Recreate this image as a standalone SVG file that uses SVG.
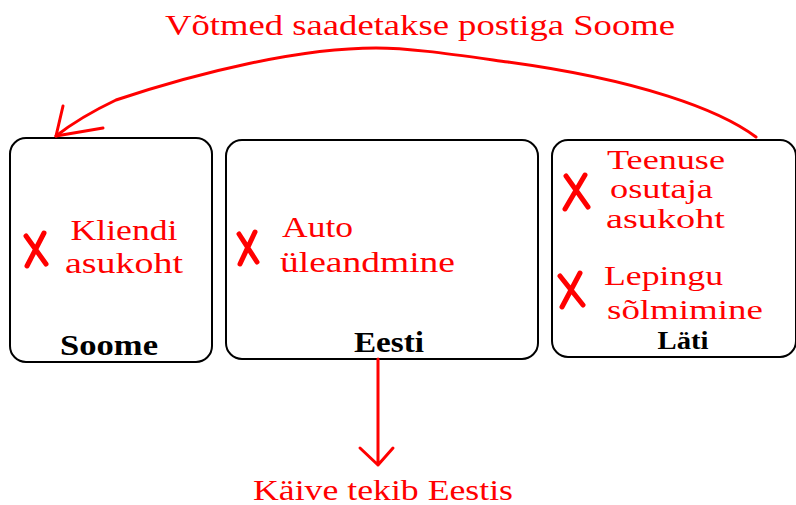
<svg xmlns="http://www.w3.org/2000/svg" width="796" height="505" viewBox="0 0 796 505">
<style>
.box{fill:#fff;stroke:#000;stroke-width:2}
.red{fill:#ff0000;font-family:"Liberation Serif","DejaVu Serif",serif;font-size:30px}
.sm{font-size:28px}
.lbl{fill:#000;font-family:"Liberation Serif","DejaVu Serif",serif;font-size:29px;font-weight:bold}
.x{fill:none;stroke:#ff0000;stroke-width:5;stroke-linecap:round}
.con{fill:none;stroke:#ff0000;stroke-width:3;stroke-linecap:round;stroke-linejoin:round}
</style>
<rect width="796" height="505" fill="#fff"/>
<g id="soome">
<rect class="box" x="10" y="138" width="202" height="224" rx="16"/>
<path class="x" d="M26,236 L46,264 M44,233 L27,266"/>
<text class="red" x="124" y="240" text-anchor="middle" textLength="107" lengthAdjust="spacingAndGlyphs">Kliendi</text>
<text class="red" x="124" y="273" text-anchor="middle" textLength="118" lengthAdjust="spacingAndGlyphs">asukoht</text>
<text class="lbl" x="109" y="355" text-anchor="middle" textLength="98" lengthAdjust="spacingAndGlyphs">Soome</text>
</g>
<g id="eesti">
<rect class="box" x="226" y="140" width="312" height="219" rx="16"/>
<path class="x" d="M239,234 L257,262 M255,232 L240,264"/>
<text class="red" x="282" y="237" textLength="71" lengthAdjust="spacingAndGlyphs">Auto</text>
<text class="red" x="280" y="272" textLength="175" lengthAdjust="spacingAndGlyphs">üleandmine</text>
<text class="lbl" x="389" y="352" text-anchor="middle" textLength="70" lengthAdjust="spacingAndGlyphs">Eesti</text>
</g>
<g id="lati">
<rect class="box" x="552" y="140" width="244" height="217" rx="16"/>
<path class="x" d="M566,176 L588,207 M585,175 L565,209 M560,276 L583,305 M580,273 L562,307"/>
<text class="red sm" x="607" y="169" textLength="118" lengthAdjust="spacingAndGlyphs">Teenuse</text>
<text class="red sm" x="610" y="198" textLength="103" lengthAdjust="spacingAndGlyphs">osutaja</text>
<text class="red sm" x="606" y="228" textLength="119" lengthAdjust="spacingAndGlyphs">asukoht</text>
<text class="red sm" x="604" y="285" textLength="119" lengthAdjust="spacingAndGlyphs">Lepingu</text>
<text class="red sm" x="607" y="319" textLength="156" lengthAdjust="spacingAndGlyphs">sõlmimine</text>
<text class="lbl" x="683" y="349" text-anchor="middle" textLength="51" lengthAdjust="spacingAndGlyphs" style="font-size:26px">Läti</text>
</g>
<g id="connectors">
<path class="con" d="M756,137 C720,110 640,80 508,62 C450,54 410,48 376,48 C300,48 200,72 116,100 C95,110 70,125 56,136"/>
<path class="con" d="M63,106 L56,136 L103,128"/>
<path class="con" d="M378,359 L378,465 M360,448 L378,465 L393,448"/>
</g>
<text class="red" x="420" y="35" text-anchor="middle" textLength="510" lengthAdjust="spacingAndGlyphs">Võtmed saadetakse postiga Soome</text>
<text class="red" x="383" y="500" text-anchor="middle" textLength="260" lengthAdjust="spacingAndGlyphs">Käive tekib Eestis</text>
</svg>
